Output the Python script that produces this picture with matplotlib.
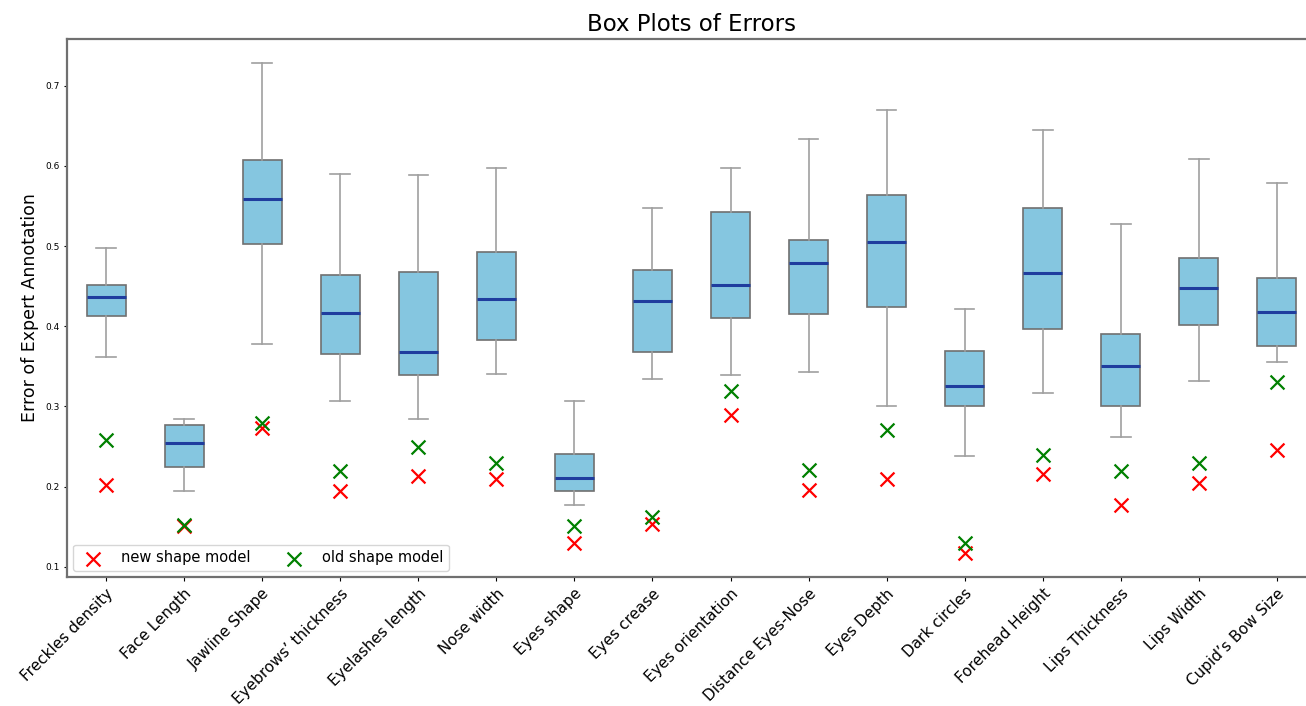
import matplotlib

matplotlib.use("Agg")
import matplotlib.pyplot as plt

features = [
    "Freckles density", "Face Length", "Jawline Shape", "Eyebrows’ thickness",
    "Eyelashes length", "Nose width", "Eyes shape", "Eyes crease",
    "Eyes orientation", "Distance Eyes-Nose", "Eyes Depth", "Dark circles",
    "Forehead Height", "Lips Thickness", "Lips Width", "Cupid’s Bow Size",
]

# box statistics
whis_lo = [0.362, 0.195, 0.378, 0.307, 0.285, 0.341, 0.177, 0.334,
           0.339, 0.343, 0.300, 0.238, 0.317, 0.262, 0.332, 0.355]
q1 = [0.413, 0.224, 0.502, 0.366, 0.339, 0.383, 0.195, 0.368,
      0.410, 0.415, 0.424, 0.300, 0.397, 0.300, 0.401, 0.375]
median = [0.436, 0.254, 0.558, 0.416, 0.368, 0.434, 0.211, 0.432,
          0.452, 0.479, 0.505, 0.326, 0.466, 0.351, 0.448, 0.418]
q3 = [0.452, 0.277, 0.607, 0.464, 0.467, 0.493, 0.241, 0.470,
      0.543, 0.507, 0.563, 0.369, 0.548, 0.390, 0.485, 0.460]
whis_hi = [0.497, 0.285, 0.728, 0.590, 0.589, 0.597, 0.307, 0.548,
           0.597, 0.633, 0.669, 0.421, 0.645, 0.527, 0.609, 0.579]

new_model = [0.202, 0.151, 0.273, 0.195, 0.213, 0.210, 0.130, 0.153,
             0.289, 0.196, 0.210, 0.117, 0.216, 0.177, 0.205, 0.246]
old_model = [0.258, 0.152, 0.280, 0.220, 0.249, 0.229, 0.151, 0.162,
             0.319, 0.221, 0.271, 0.130, 0.240, 0.220, 0.229, 0.330]

stats = [
    {"label": f, "whislo": lo, "q1": a, "med": m, "q3": b, "whishi": hi, "fliers": []}
    for f, lo, a, m, b, hi in zip(features, whis_lo, q1, median, q3, whis_hi)
]

fig = plt.figure(figsize=(13.06, 7.06), dpi=100)
ax = fig.add_axes([67 / 1306, 1 - 577 / 706, (1316 - 67) / 1306, (577 - 39) / 706])

ax.bxp(
    stats,
    widths=0.5,
    patch_artist=True,
    boxprops=dict(facecolor="#85c6e0", edgecolor="#707070", linewidth=1.2),
    medianprops=dict(color="#1f3d9e", linewidth=2.2),
    whiskerprops=dict(color="#a0a0a0", linewidth=1.2),
    capprops=dict(color="#a0a0a0", linewidth=1.2),
)

pos = range(1, len(features) + 1)
ax.scatter(pos, new_model, marker="x", color="red", s=100, linewidths=1.6,
           label="new shape model", zorder=3)
ax.scatter(pos, old_model, marker="x", color="green", s=100, linewidths=1.6,
           label="old shape model", zorder=3)

ax.set_xlim(0.5, 16.5)
ax.set_ylim(0.0875, 0.758)
ax.set_yticks([0.1, 0.2, 0.3, 0.4, 0.5, 0.6, 0.7])
ax.tick_params(axis="y", labelsize=6.5, length=2)
ax.tick_params(axis="x", length=3)
ax.set_xticks(list(pos))
ax.set_xticklabels(features, rotation=45, ha="right", rotation_mode="anchor", fontsize=11)
ax.set_ylabel("Error of Expert Annotation", fontsize=12.5)
ax.set_title("Box Plots of Errors", fontsize=16.5)
for s in ax.spines.values():
    s.set_color("#707070")
    s.set_linewidth(1.6)

ax.legend(loc="lower left", ncol=2, fontsize=10.5, columnspacing=2.0, handletextpad=0.9,
          borderaxespad=0.4)

fig.savefig("out.png", dpi=100)
